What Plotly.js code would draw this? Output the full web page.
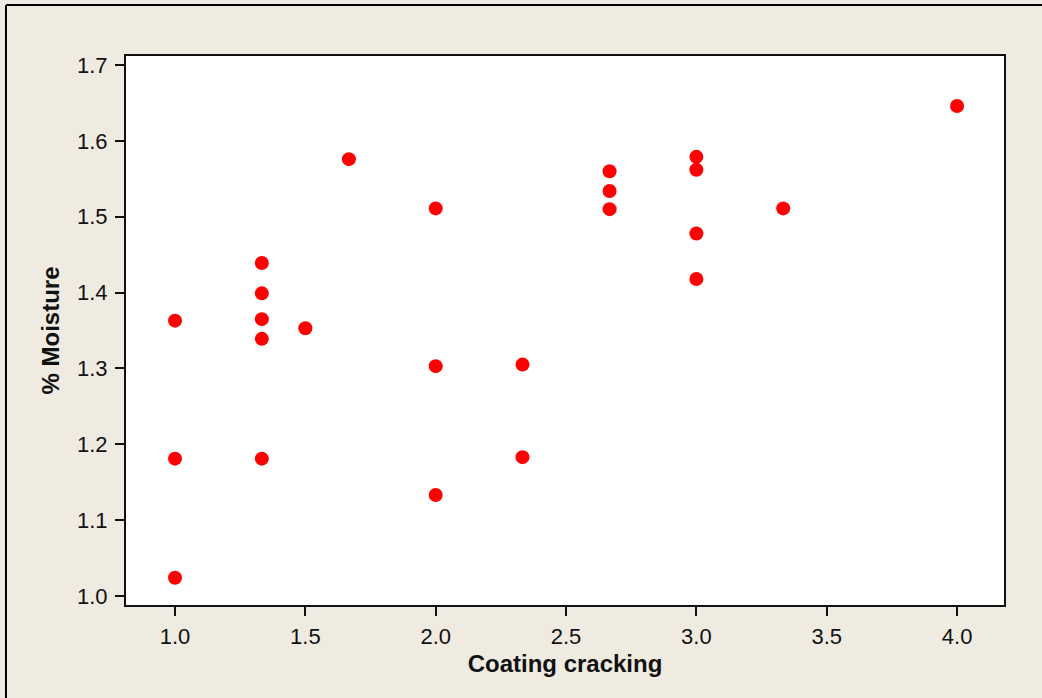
<!DOCTYPE html>
<html>
<head>
<meta charset="utf-8">
<script src="https://cdn.plot.ly/plotly-3.0.1.min.js"></script>
<style>html,body{margin:0;padding:0;background:#efebe1;}#chart{width:1042px;height:698px;}</style>
</head>
<body>
<div id="chart"></div>
<script>
const coatingCracking = [1.0, 1.0, 1.0,
  1.333, 1.333, 1.333, 1.333, 1.333,
  1.5, 1.667,
  2.0, 2.0, 2.0,
  2.333, 2.333,
  2.667, 2.667, 2.667,
  3.0, 3.0, 3.0, 3.0,
  3.333, 4.0];
const moisture = [1.363, 1.181, 1.024,
  1.439, 1.399, 1.365, 1.339, 1.181,
  1.353, 1.576,
  1.511, 1.303, 1.133,
  1.305, 1.183,
  1.560, 1.534, 1.510,
  1.579, 1.562, 1.478, 1.418,
  1.511, 1.646];
const xTicks = [1.0, 1.5, 2.0, 2.5, 3.0, 3.5, 4.0];
const yTicks = [1.0, 1.1, 1.2, 1.3, 1.4, 1.5, 1.6, 1.7];

const trace = {
  x: coatingCracking, y: moisture, type: 'scatter', mode: 'markers',
  marker: {color: '#ff0000', size: 14}, hoverinfo: 'x+y'
};
const tickFont = {family: 'Liberation Sans, Arial, sans-serif', size: 22, color: '#111'};
const titleFont = {family: 'Liberation Sans, Arial, sans-serif', size: 24, color: '#111', weight: 'bold'};
const layout = {
  width: 1042, height: 698,
  paper_bgcolor: '#efebe1', plot_bgcolor: '#ffffff',
  margin: {l: 126, r: 38, t: 56, b: 93},
  showlegend: false,
  xaxis: {
    range: [0.812, 4.18], tickvals: xTicks, ticktext: xTicks.map(v => v.toFixed(1)),
    ticks: 'outside', ticklen: 9, tickwidth: 1.5, tickcolor: '#111',
    showgrid: false, zeroline: false, showline: true, linecolor: '#111', linewidth: 2, mirror: true,
    tickfont: tickFont, ticklabelstandoff: 2,
    title: {text: 'Coating cracking', font: titleFont, standoff: 7}
  },
  yaxis: {
    range: [0.988, 1.712], tickvals: yTicks, ticktext: yTicks.map(v => v.toFixed(1)),
    ticks: 'outside', ticklen: 9, tickwidth: 1.5, tickcolor: '#111',
    showgrid: false, zeroline: false, showline: true, linecolor: '#111', linewidth: 2, mirror: true,
    tickfont: tickFont, ticklabelstandoff: 3,
    title: {text: '% Moisture', font: titleFont, standoff: 11}
  },
  shapes: [
    {type: 'line', xref: 'paper', yref: 'paper', x0: -0.1367, x1: -0.1367, y0: 1.0929, y1: -0.18, line: {color: '#000', width: 2}},
    {type: 'line', xref: 'paper', yref: 'paper', x0: -0.1367, x1: 1.05, y0: 1.0929, y1: 1.0929, line: {color: '#000', width: 2}}
  ]
};
Plotly.newPlot('chart', [trace], layout, {displayModeBar: false});
</script>
</body>
</html>
